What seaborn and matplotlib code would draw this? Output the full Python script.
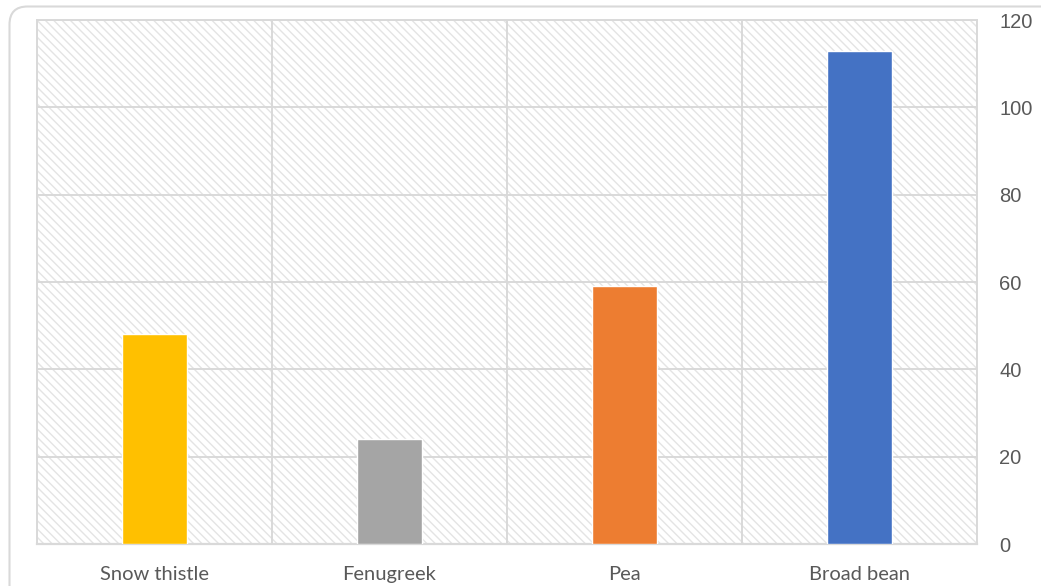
import matplotlib
matplotlib.use("Agg")
import matplotlib.pyplot as plt
import seaborn as sns
import pandas as pd
from matplotlib.patches import Rectangle, FancyBboxPatch
from matplotlib.transforms import IdentityTransform

categories = ["Snow thistle", "Fenugreek", "Pea", "Broad bean"]
values = [48, 24, 59, 113]
colors = ["#FFC000", "#A5A5A5", "#ED7D31", "#4472C4"]
yticks = [0, 20, 40, 60, 80, 100, 120]

sns.set_theme(style="white")
plt.rcParams["hatch.color"] = "#e4e4e4"
plt.rcParams["hatch.linewidth"] = 1.0

df = pd.DataFrame({"category": categories, "value": values})

fig = plt.figure(figsize=(10.41, 5.86), dpi=100)
ax = fig.add_axes([37 / 1041, 1 - 544 / 586, (977 - 37) / 1041, (544 - 20) / 586])

# hatched plot background
bg = Rectangle((0, 0), 1, 1, transform=ax.transAxes, facecolor="white",
               edgecolor="#e4e4e4", hatch="\\\\\\\\", linewidth=0, zorder=0)
ax.add_patch(bg)

sns.barplot(data=df, x="category", y="value", hue="category", palette=colors,
            width=0.277, legend=False, ax=ax, zorder=3, saturation=1)

ax.set_xlim(-0.5, 3.5)
ax.set_ylim(0, 120)
ax.set_yticks(yticks)
ax.yaxis.tick_right()
ax.set_xlabel("")
ax.set_ylabel("")

grid_c = "#d9d9d9"
ax.set_xticks([-0.5, 0.5, 1.5, 2.5, 3.5], minor=True)
ax.grid(True, axis="y", which="major", color=grid_c, linewidth=1.4, zorder=1)
ax.grid(True, axis="x", which="minor", color=grid_c, linewidth=1.4, zorder=1)
ax.grid(False, axis="x", which="major")
ax.set_axisbelow(True)
for s in ax.spines.values():
    s.set_color(grid_c)
    s.set_linewidth(1.4)
ax.spines["bottom"].set_linewidth(1.6)

ax.tick_params(axis="both", which="both", length=0)
ax.tick_params(axis="y", pad=16, labelsize=14.5, labelcolor="#595959")
ax.tick_params(axis="x", pad=16, labelsize=14.5, labelcolor="#595959")
for lab in ax.get_yticklabels():
    lab.set_fontfamily("Liberation Sans")
for lab in ax.get_xticklabels():
    lab.set_fontfamily("Lato")

# outer rounded border
border = FancyBboxPatch((9.5, -30), 1060, 586 - 6.5 + 30,
                        boxstyle="round,pad=0,rounding_size=18",
                        transform=IdentityTransform(), facecolor="none",
                        edgecolor="#d9d9d9", linewidth=1.5, clip_on=False)
fig.patches.append(border)

fig.savefig("out.png", dpi=100, facecolor="white")
